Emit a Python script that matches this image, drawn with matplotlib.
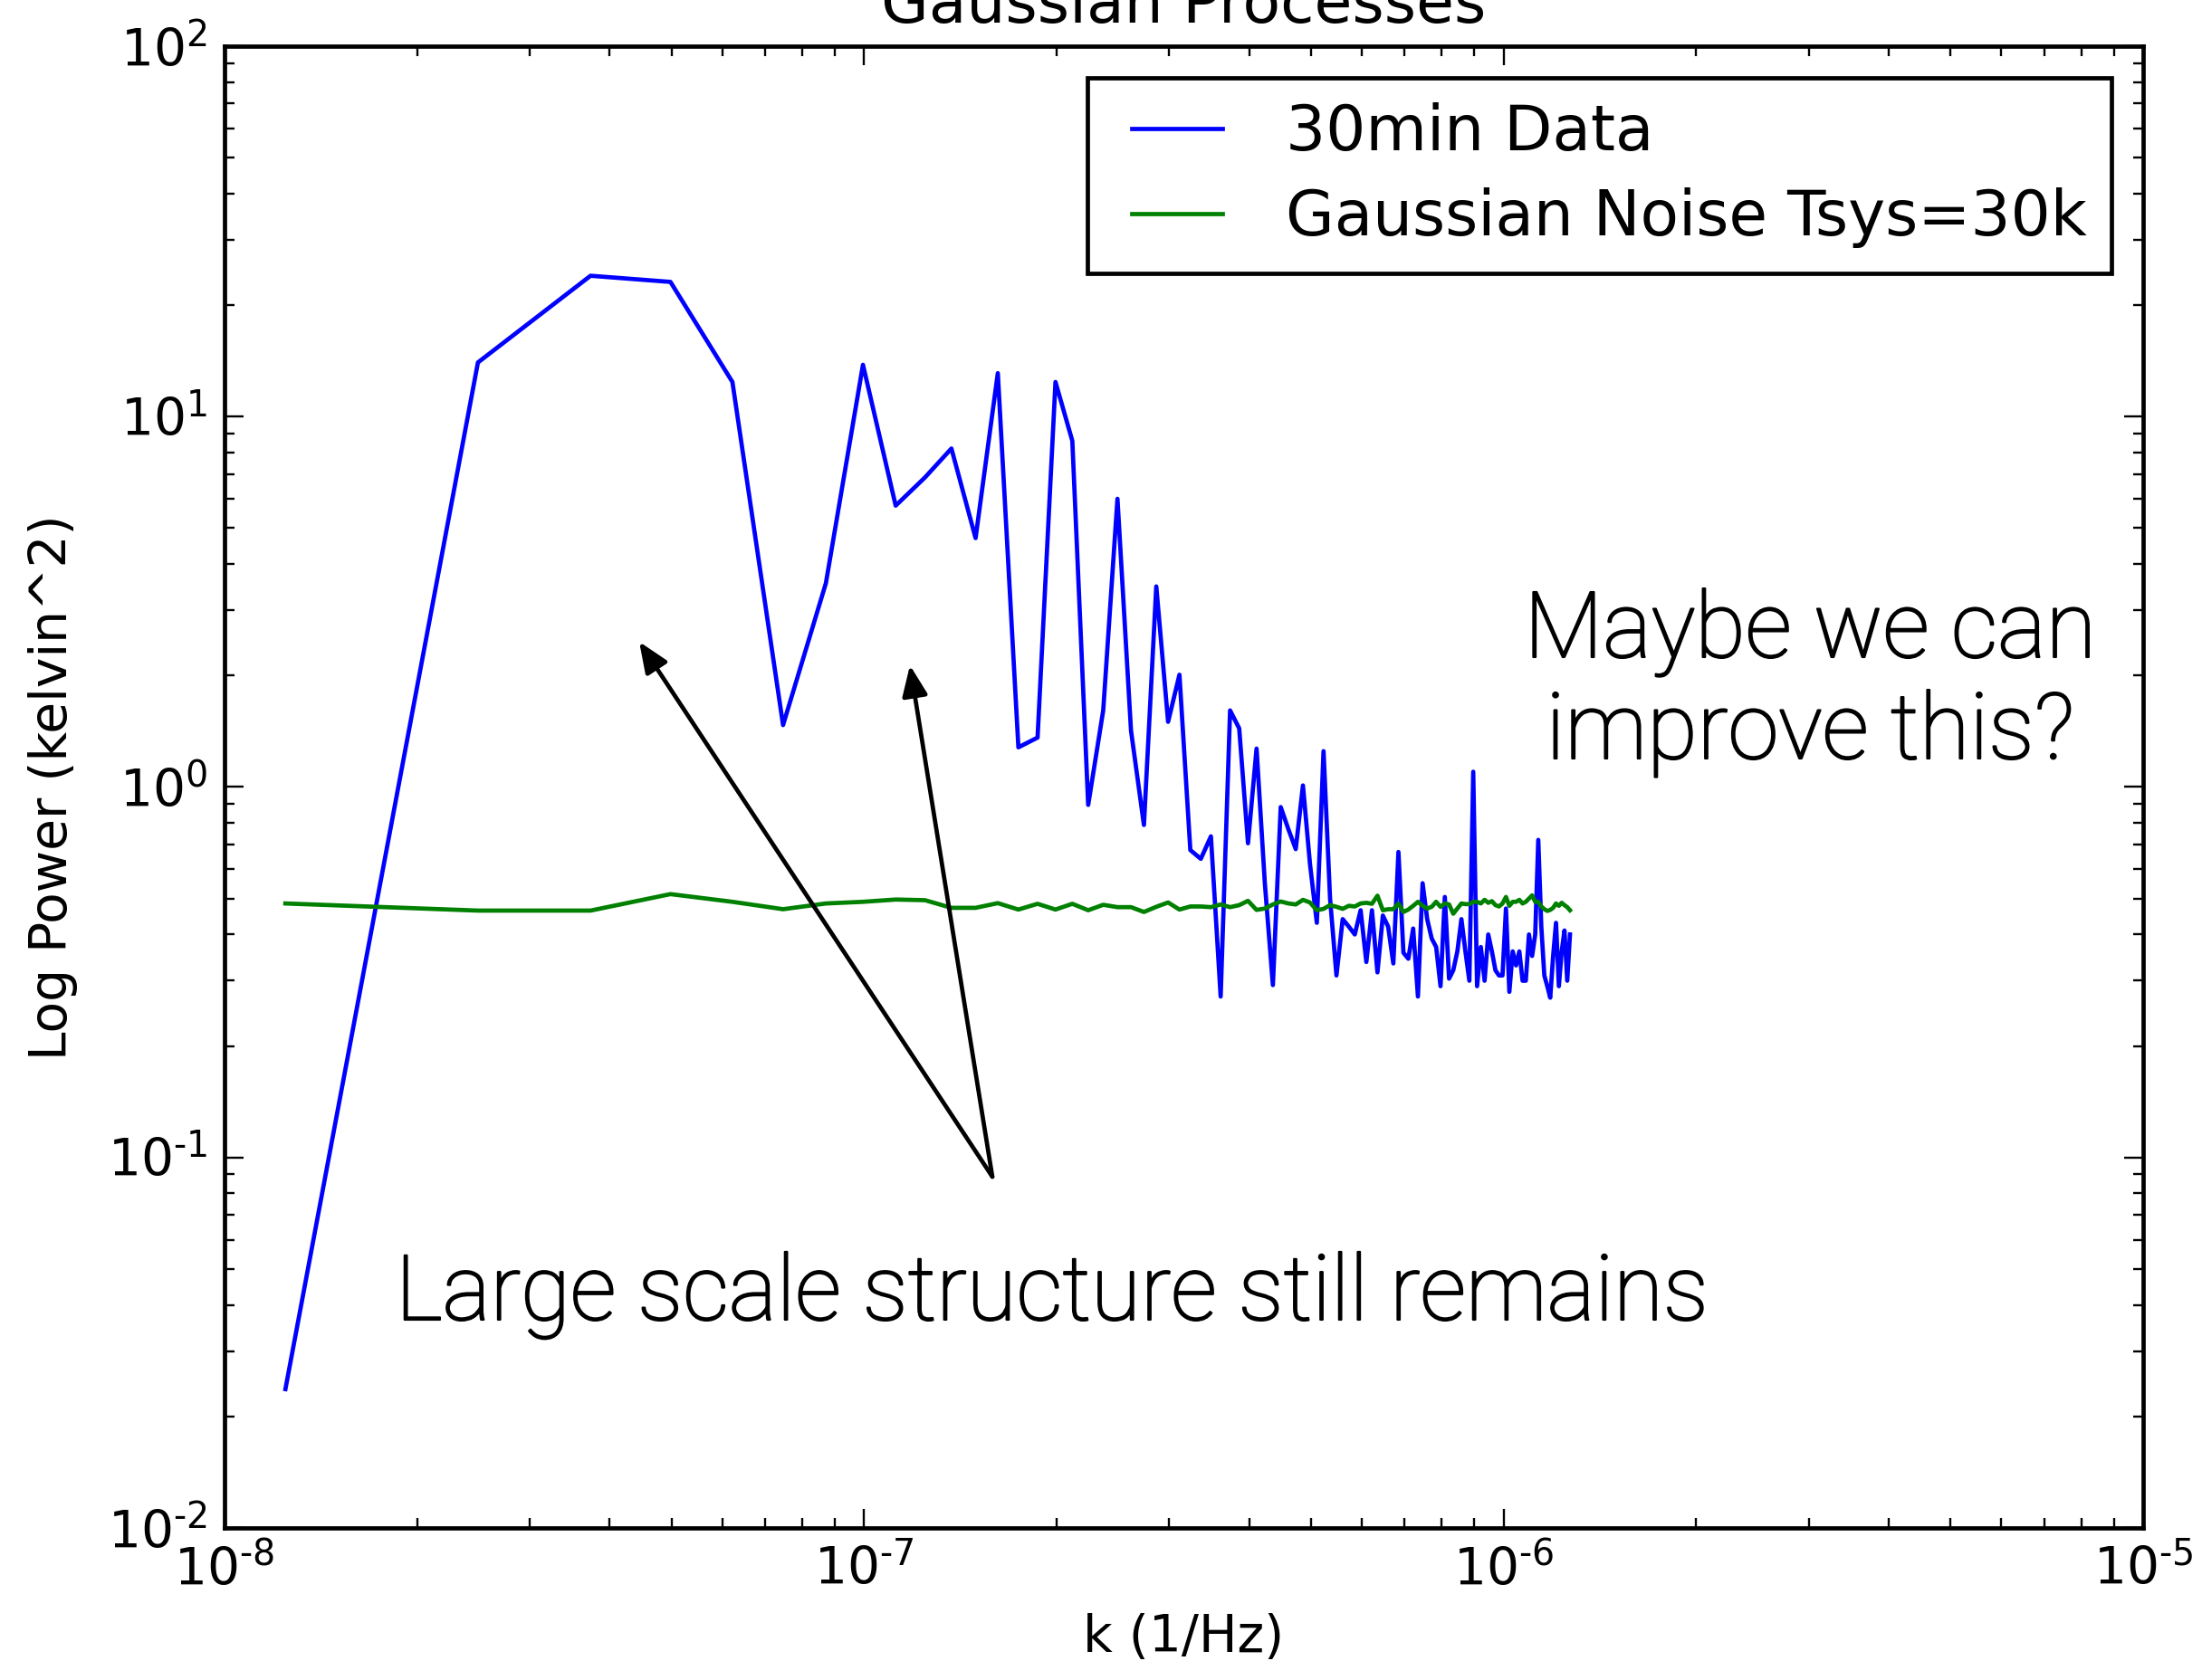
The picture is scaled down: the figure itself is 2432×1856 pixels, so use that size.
import numpy as np
import matplotlib
matplotlib.use('Agg')
import matplotlib.pyplot as plt
import matplotlib.patheffects as pe
from matplotlib.legend_handler import HandlerLine2D
from matplotlib.ticker import FuncFormatter

# ---- data ----
k_step = 1.245e-8                     # frequency bin width (1/Hz)
bins = np.arange(1, 103)              # FFT bin index 1..102
k = k_step * bins

power_data = [0.0237, 14.0, 24.0, 23.1, 12.4, 1.47, 3.55, 13.8, 5.75, 6.85,
              8.2, 4.7, 13.1, 1.28, 1.36, 12.4, 8.6, 0.895, 1.61, 6.0,
              1.42, 0.79, 3.48, 1.50, 2.01, 0.676, 0.64, 0.736, 0.272, 1.61,
              1.44, 0.705, 1.27, 0.55, 0.292, 0.883, 0.77, 0.68, 1.01, 0.62,
              0.43, 1.25, 0.50, 0.31, 0.44, 0.42, 0.40, 0.465, 0.337, 0.465,
              0.316, 0.45, 0.42, 0.334, 0.668, 0.357, 0.344, 0.415, 0.272, 0.55,
              0.44, 0.39, 0.37, 0.29, 0.505, 0.304, 0.32, 0.36, 0.44, 0.36,
              0.30, 1.10, 0.29, 0.37, 0.30, 0.40, 0.36, 0.32, 0.31, 0.31,
              0.47, 0.28, 0.36, 0.33, 0.36, 0.30, 0.30, 0.40, 0.35, 0.40,
              0.72, 0.42, 0.31, 0.29, 0.27, 0.35, 0.43, 0.29, 0.36, 0.41,
              0.30, 0.40]

power_noise = [0.485, 0.464, 0.464, 0.514, 0.49, 0.468, 0.485, 0.49, 0.497, 0.495,
               0.472, 0.472, 0.486, 0.467, 0.484, 0.467, 0.484, 0.465, 0.481, 0.474,
               0.474, 0.46, 0.475, 0.488, 0.467, 0.476, 0.476, 0.474, 0.482, 0.474,
               0.48, 0.493, 0.466, 0.47, 0.482, 0.491, 0.485, 0.482, 0.496, 0.488,
               0.465, 0.469, 0.48, 0.475, 0.469, 0.478, 0.476, 0.485, 0.487, 0.484,
               0.509, 0.465, 0.468, 0.468, 0.485, 0.46, 0.467, 0.478, 0.49, 0.478,
               0.47, 0.475, 0.49, 0.475, 0.485, 0.482, 0.455, 0.47, 0.485, 0.483,
               0.483, 0.49, 0.49, 0.485, 0.496, 0.487, 0.492, 0.48, 0.476, 0.485,
               0.505, 0.478, 0.49, 0.49, 0.496, 0.485, 0.49, 0.5, 0.51, 0.49,
               0.49, 0.476, 0.468, 0.463, 0.466, 0.472, 0.485, 0.478, 0.487, 0.48,
               0.474, 0.465]

series_labels = ['30min Data', 'Gaussian Noise Tsys=30k']
title = 'Gaussian Processes'
xlabel = 'k (1/Hz)'
ylabel = 'Log Power (kelvin^2)'
note_bottom = 'Large scale structure still remains'
note_right = ['Maybe we can', 'improve this?']

# ---- figure ----
W, H, DPI = 2432, 1856, 340
plt.rcParams['font.family'] = ['DejaVu Sans']
plt.rcParams['axes.unicode_minus'] = False
fig = plt.figure(figsize=(W / DPI, H / DPI), dpi=DPI, facecolor='white')
ax = fig.add_axes([248 / W, 1 - 1688 / H, (2367 - 248) / W, (1688 - 51) / H])

ax.plot(k, power_data, color=(0, 0, 1), lw=1.0, label=series_labels[0])
ax.plot(k, power_noise, color=(0, 0.5, 0), lw=1.0, label=series_labels[1])

ax.set_xscale('log')
ax.set_yscale('log')
ax.set_xlim(1e-8, 1e-5)
ax.set_ylim(1e-2, 1e2)


def pow_fmt(v, pos):
    e = int(round(np.log10(v)))
    if e < 0:
        return r'$\mathdefault{10^{\text{-}%d}}$' % (-e)
    return r'$\mathdefault{10^{%d}}$' % e


ax.xaxis.set_major_formatter(FuncFormatter(pow_fmt))
ax.yaxis.set_major_formatter(FuncFormatter(pow_fmt))

for s in ax.spines.values():
    s.set_linewidth(1.0)
ax.tick_params(which='both', direction='in', top=True, right=True, labelsize=12,
               width=0.5, pad=4)
ax.tick_params(which='major', length=4.5)
ax.tick_params(which='minor', length=2.3)

ax.set_title(title, fontsize=14.4, pad=5.5)
ax.set_xlabel(xlabel, fontsize=12)
ax.set_ylabel(ylabel, fontsize=12, labelpad=7)

leg = ax.legend(loc='upper right', fontsize=14.7, frameon=True, fancybox=False,
                framealpha=1.0, edgecolor='black', borderaxespad=0.5,
                borderpad=0.4, handlelength=1.75, handletextpad=1.0,
                labelspacing=0.38,
                handler_map={plt.Line2D: HandlerLine2D(xpad=0.3)})
leg.get_frame().set_linewidth(1.0)

# ---- slide annotations ----
ann_font = dict(family=['Roboto', 'DejaVu Sans'], weight='light', color='black',
                path_effects=[pe.withStroke(linewidth=0.45, foreground='black')])
fig.text(437 / W, 1 - 1458 / H, note_bottom, ha='left', va='baseline',
         fontsize=21.2, **ann_font)
fig.text(1999 / W, 1 - 726 / H, note_right[0], ha='center', va='baseline',
         fontsize=21.45, **ann_font)
fig.text(1999 / W, 1 - 838 / H, note_right[1], ha='center', va='baseline',
         fontsize=21.45, **ann_font)

tail = (1096 / W, 1 - 1300 / H)
for hx, hy in [(706, 709), (1005, 735)]:
    fig.add_artist(matplotlib.patches.FancyArrowPatch(
        tail, (hx / W, 1 - hy / H), transform=fig.transFigure,
        arrowstyle='-|>,head_length=0.6,head_width=0.25', mutation_scale=10,
        lw=1.0, color='black', shrinkA=0, shrinkB=0))

fig.savefig('out.png', dpi=DPI, facecolor='white')
